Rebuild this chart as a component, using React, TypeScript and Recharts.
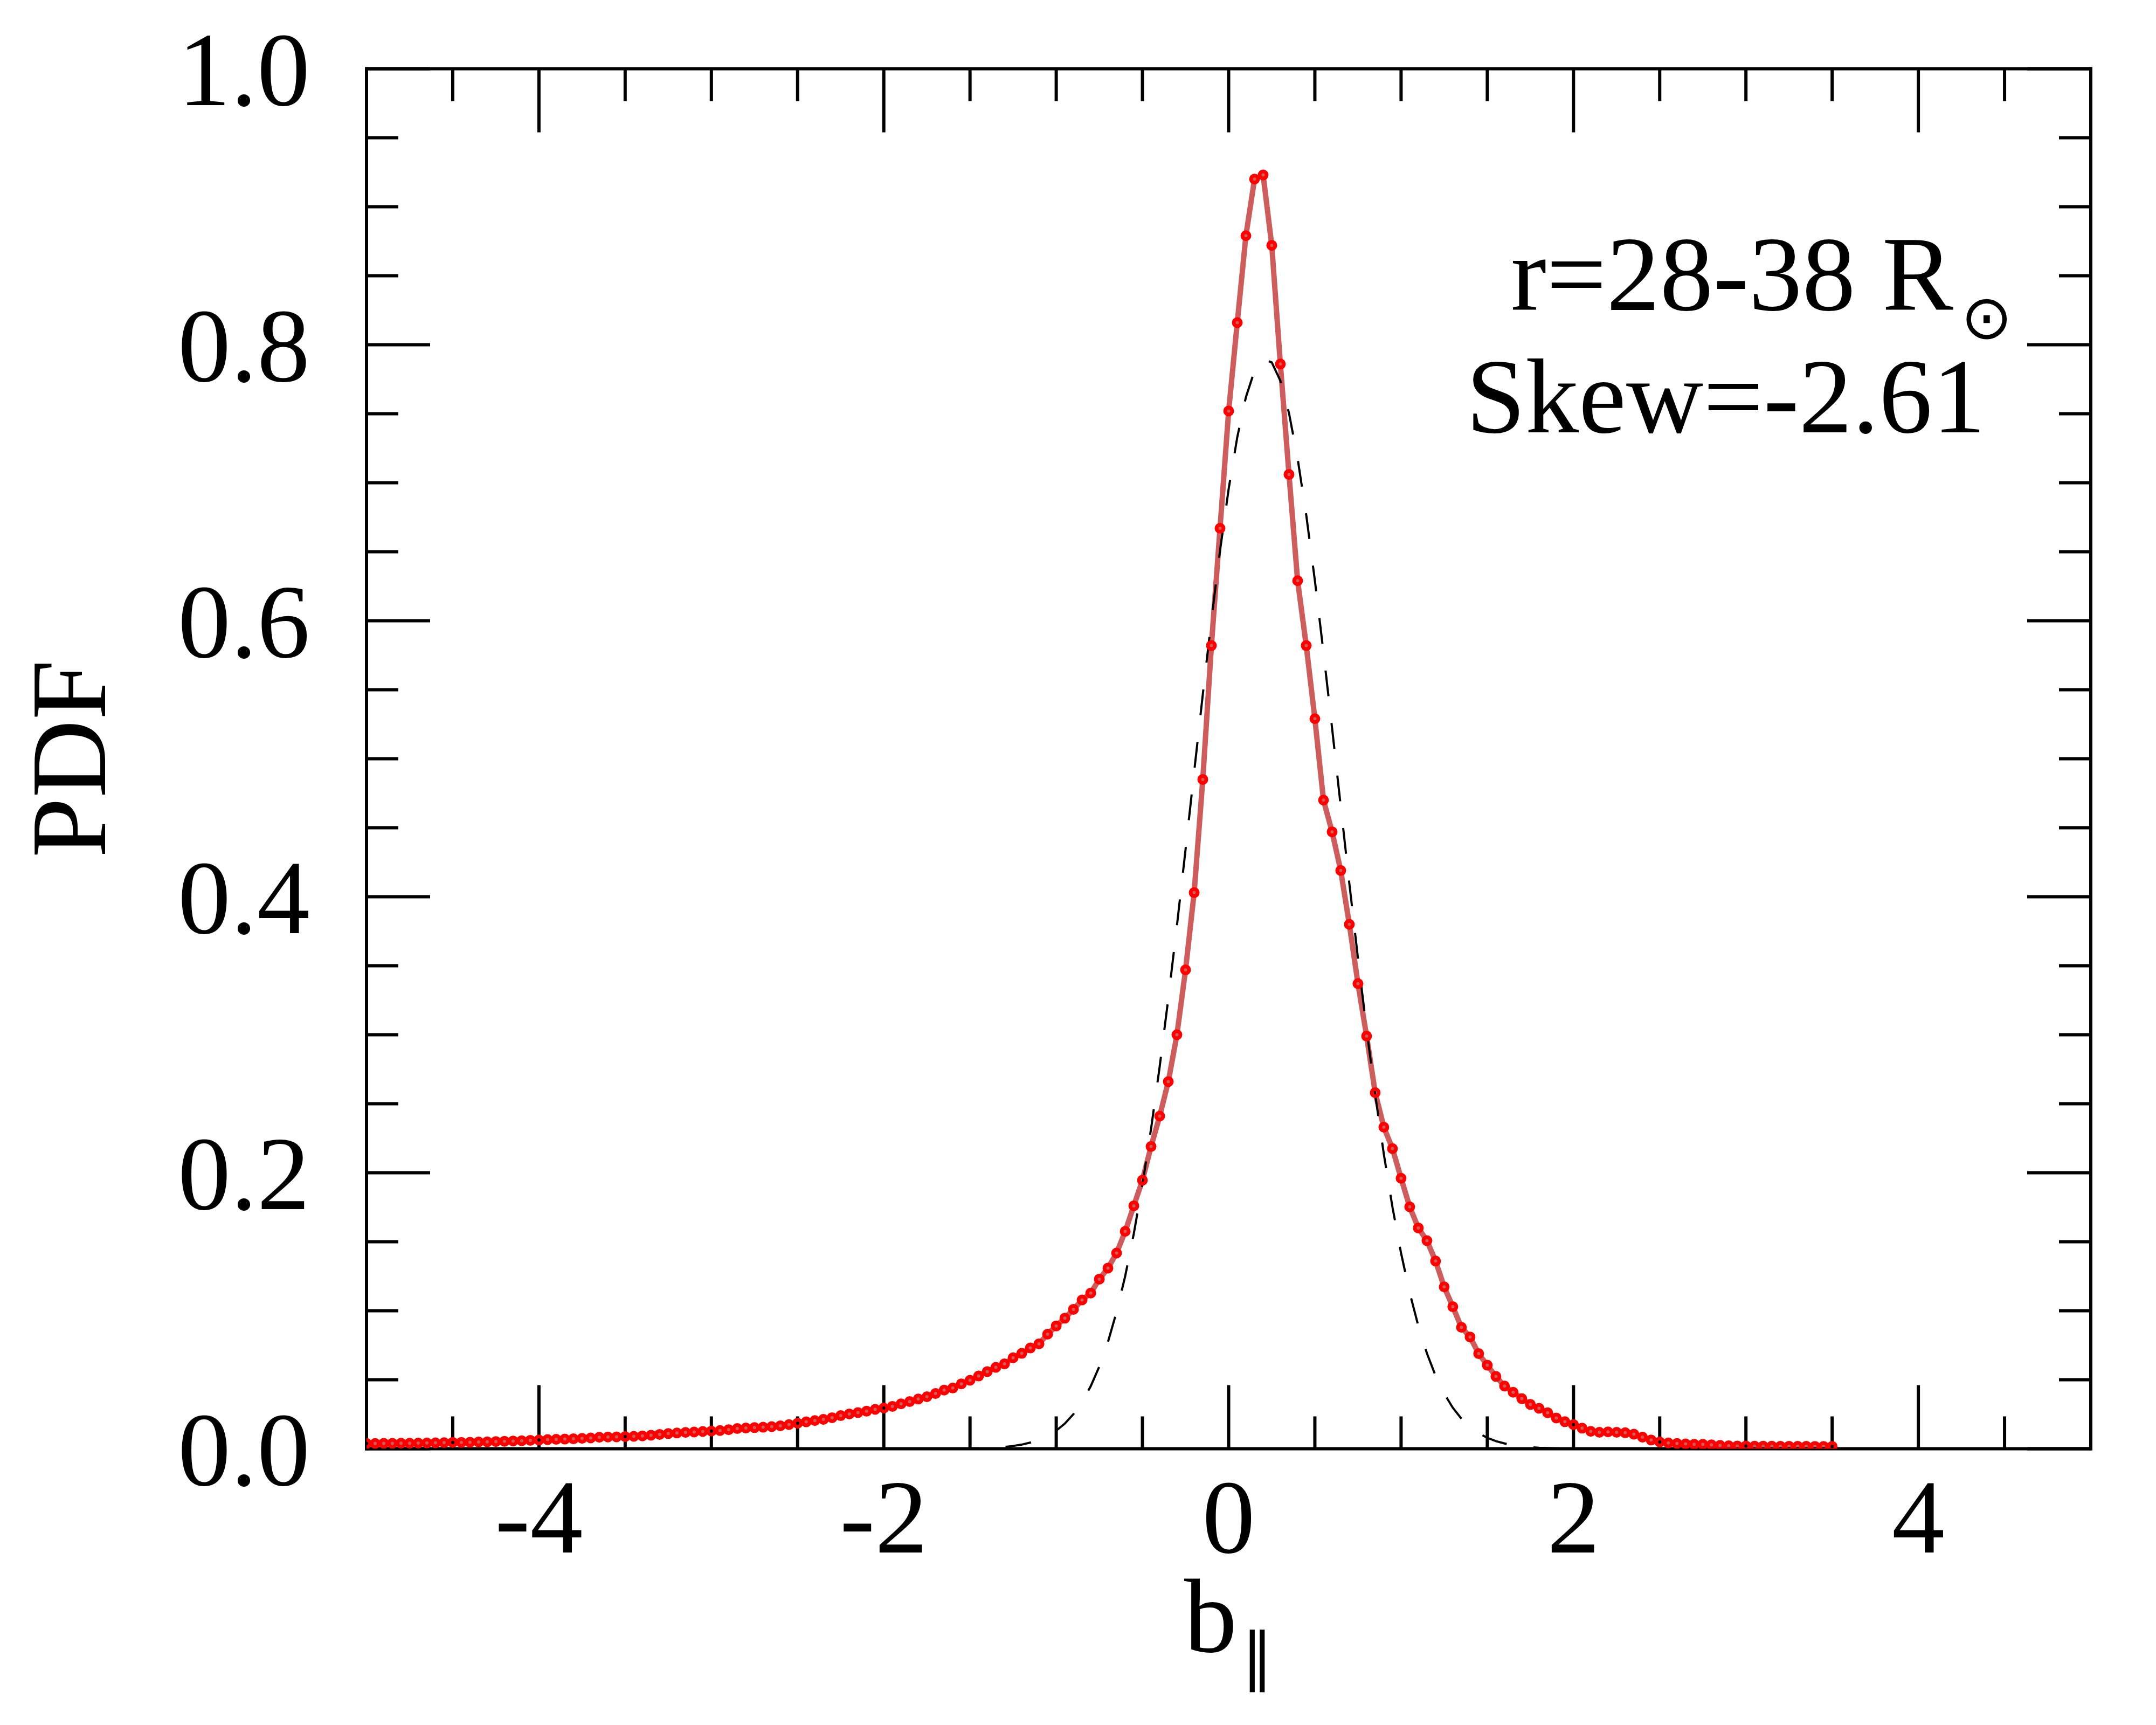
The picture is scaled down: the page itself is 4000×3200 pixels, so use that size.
import React from 'react';
import { LineChart, Line, XAxis, YAxis } from 'recharts';

// ---------- data ----------
const X_START = -5;
const X_STEP = 0.05;

// observed PDF (red, with markers), x = -5.00 ... 3.50 every 0.05
const PDF_VALUES = [
  0.0038, 0.0038, 0.0039, 0.0039, 0.004, 0.004, 0.0041, 0.0042, 0.0043, 0.0044,
  0.0046, 0.0046, 0.0047, 0.0049, 0.005, 0.0052, 0.0054, 0.0056, 0.0058, 0.0061,
  0.0063, 0.0066, 0.0068, 0.007, 0.0072, 0.0075, 0.0078, 0.0083, 0.0085, 0.0086,
  0.0088, 0.009, 0.0093, 0.0098, 0.0104, 0.011, 0.0114, 0.0118, 0.0121, 0.0125,
  0.0128, 0.0132, 0.0138, 0.0146, 0.015, 0.0153, 0.0156, 0.016, 0.0166, 0.0175,
  0.0185, 0.0195, 0.0204, 0.0213, 0.0225, 0.024, 0.0252, 0.0262, 0.0272, 0.0285,
  0.0295, 0.0307, 0.0325, 0.0342, 0.036, 0.0377, 0.04, 0.0425, 0.044, 0.047,
  0.0496, 0.0527, 0.0559, 0.059, 0.0615, 0.0659, 0.0691, 0.073, 0.076, 0.083,
  0.089, 0.0946, 0.101, 0.1078, 0.1128, 0.1229, 0.1309, 0.1418, 0.1575, 0.176,
  0.1946, 0.219, 0.241, 0.266, 0.3, 0.347, 0.403, 0.485, 0.582, 0.667,
  0.752, 0.816, 0.879, 0.92, 0.923, 0.872, 0.786, 0.706, 0.629, 0.582,
  0.529, 0.47, 0.447, 0.419, 0.38, 0.337, 0.299, 0.258, 0.233, 0.2175,
  0.196, 0.1753, 0.16, 0.1508, 0.136, 0.1173, 0.1029, 0.088, 0.081, 0.0689,
  0.0605, 0.0524, 0.0454, 0.0409, 0.0363, 0.0321, 0.0293, 0.0261, 0.0223, 0.0196,
  0.0175, 0.0149, 0.0126, 0.0119, 0.0122, 0.0119, 0.0116, 0.0105, 0.0084, 0.0063,
  0.0049, 0.0042, 0.0038, 0.0035, 0.0032, 0.0032, 0.0028, 0.0024, 0.0021, 0.002,
  0.002, 0.0019, 0.0019, 0.0019, 0.0018, 0.0018, 0.0018, 0.0018, 0.0017, 0.0017, 0.0017,
];

// dashed reference curve, x = -1.60 ... 2.00 every 0.05
const GAUSS_START = -1.6;
const GAUSS_VALUES = [
  0.0001, 0.0001, 0.0002, 0.0004, 0.0006, 0.0009, 0.0013, 0.002, 0.003, 0.0045,
  0.0065, 0.0093, 0.0131, 0.0182, 0.0251, 0.0339, 0.0453, 0.0596, 0.0774, 0.0991,
  0.1251, 0.1559, 0.1914, 0.2318, 0.2769, 0.3262, 0.379, 0.4341, 0.4905, 0.5465,
  0.6006, 0.6508, 0.6955, 0.733, 0.762, 0.7811, 0.7896, 0.7872, 0.7739, 0.7504,
  0.7176, 0.6766, 0.6292, 0.5771, 0.522, 0.4656, 0.4096, 0.3553, 0.304, 0.2565,
  0.2135, 0.1751, 0.1417, 0.1131, 0.089, 0.0691, 0.0529, 0.04, 0.0297, 0.0218,
  0.0158, 0.0113, 0.0079, 0.0055, 0.0038, 0.0026, 0.0017, 0.0011, 0.0007, 0.0005,
  0.0003, 0.0002, 0.0001,
];

const X_DOMAIN = [-5, 5];
const Y_DOMAIN = [0, 1];
const X_MAJOR_TICKS = [-4, -2, 0, 2, 4];
const X_MINOR_TICKS = [-4.5, -3.5, -3, -2.5, -1.5, -1, -0.5, 0.5, 1, 1.5, 2.5, 3, 3.5, 4.5];
const Y_MAJOR_TICKS = [0, 0.2, 0.4, 0.6, 0.8, 1.0];
const Y_MINOR_TICKS = [0.05, 0.1, 0.15, 0.25, 0.3, 0.35, 0.45, 0.5, 0.55, 0.65, 0.7, 0.75, 0.85, 0.9, 0.95];

const X_TITLE = 'b';
const X_TITLE_SUB = '\u2225';
const Y_TITLE = 'PDF';
const NOTE_1 = 'r=28-38 R';
const NOTE_1_SUB = '\u2299';
const NOTE_2 = 'Skew=-2.61';

// ---------- table for recharts ----------
const round2 = (v: number) => Math.round(v * 100) / 100;
const data = PDF_VALUES.map((pdf, i) => {
  const x = round2(X_START + i * X_STEP);
  const gi = Math.round((x - GAUSS_START) / X_STEP);
  const gauss = gi >= 0 && gi < GAUSS_VALUES.length ? GAUSS_VALUES[gi] : null;
  return { x, pdf, gauss };
});

// ---------- styles ----------
const FONT = "'Liberation Serif', 'Times New Roman', serif";
const SYM_FONT = "'DejaVu Sans', sans-serif";
const TICK_FS = 196;
const AXIS_LINE = { stroke: '#000', strokeWidth: 6, strokeLinecap: 'square' as const };
const TICK_LINE = { stroke: '#000', strokeWidth: 6 };
const MAJOR = -118;
const MINOR = -61;

const XTick = (props: any) => {
  const { x, y, payload } = props;
  return (
    <text x={x} y={y} dy={192} textAnchor="middle" fontFamily={FONT} fontSize={TICK_FS} fill="#000" stroke="none">
      {String(payload.value)}
    </text>
  );
};

const YTick = (props: any) => {
  const { x, y, payload } = props;
  return (
    <text x={x - 105} y={y} dy={67} textAnchor="end" fontFamily={FONT} fontSize={TICK_FS} fill="#000" stroke="none">
      {Number(payload.value).toFixed(1)}
    </text>
  );
};

const NoLabel = () => <g />;

const XTitle = (props: any) => {
  const vb = props.viewBox;
  const cx = vb.x + vb.width / 2;
  return (
    <text x={cx} y={vb.y + 376} textAnchor="middle" fontFamily={FONT} fontSize={196} fill="#000">
      <tspan>{X_TITLE}</tspan>
      <tspan fontFamily={SYM_FONT} fontSize={118} dx={8} dy={50}>{X_TITLE_SUB}</tspan>
    </text>
  );
};

const YTitle = (props: any) => {
  const vb = props.viewBox;
  const bx = vb.x + vb.width - 485;
  const cy = vb.y + vb.height / 2;
  return (
    <text x={bx} y={cy} transform={`rotate(-90 ${bx} ${cy})`} textAnchor="middle" fontFamily={FONT} fontSize={200} fill="#000">
      {Y_TITLE}
    </text>
  );
};

const Notes = (props: any) => {
  const vb = props.viewBox;
  const right = vb.x + vb.width;
  const top = vb.y + vb.height;
  return (
    <g>
      <text x={right - 1076} y={top + 447.5} fontFamily={FONT} fontSize={198} fill="#000">
        <tspan>{NOTE_1}</tspan>
        <tspan fontFamily={SYM_FONT} fontSize={114} dx={14} dy={53}>{NOTE_1_SUB}</tspan>
      </text>
      <text x={right - 1159} y={top + 674.5} fontFamily={FONT} fontSize={198} fill="#000">
        {NOTE_2}
      </text>
    </g>
  );
};

const axisCommon = { type: 'number' as const, allowDataOverflow: true, interval: 0 as const, stroke: '#000', strokeWidth: 6 };

export default function App() {
  return (
    <div style={{ position: 'absolute', left: 0, top: 0, background: '#fff' }}>
      <LineChart
        width={4000}
        height={3200}
        data={data}
        margin={{ top: 125.5, right: 119, bottom: 510.5, left: 678 }}
      >
        <XAxis
          {...axisCommon} xAxisId="xb" dataKey="x" domain={X_DOMAIN}
          ticks={X_MAJOR_TICKS} height={1} orientation="bottom"
          axisLine={AXIS_LINE} tickLine={TICK_LINE} tickSize={MAJOR} tickMargin={-MAJOR}
          tick={<XTick />} label={{ content: XTitle }}
        />
        <XAxis
          {...axisCommon} xAxisId="xbm" dataKey="x" domain={X_DOMAIN}
          ticks={X_MINOR_TICKS} height={1} orientation="bottom"
          axisLine={false} tickLine={TICK_LINE} tickSize={MINOR} tick={<NoLabel />}
        />
        <XAxis
          {...axisCommon} xAxisId="xt" dataKey="x" domain={X_DOMAIN}
          ticks={X_MAJOR_TICKS} height={1} orientation="top"
          axisLine={AXIS_LINE} tickLine={TICK_LINE} tickSize={MAJOR} tick={<NoLabel />}
          label={{ content: Notes }}
        />
        <XAxis
          {...axisCommon} xAxisId="xtm" dataKey="x" domain={X_DOMAIN}
          ticks={X_MINOR_TICKS} height={1} orientation="top"
          axisLine={false} tickLine={TICK_LINE} tickSize={MINOR} tick={<NoLabel />}
        />
        <YAxis
          {...axisCommon} yAxisId="yl" domain={Y_DOMAIN}
          ticks={Y_MAJOR_TICKS} width={1} orientation="left"
          axisLine={AXIS_LINE} tickLine={TICK_LINE} tickSize={MAJOR} tickMargin={-MAJOR}
          tick={<YTick />} label={{ content: YTitle }}
        />
        <YAxis
          {...axisCommon} yAxisId="ylm" domain={Y_DOMAIN}
          ticks={Y_MINOR_TICKS} width={1} orientation="left"
          axisLine={false} tickLine={TICK_LINE} tickSize={-60} tick={<NoLabel />}
        />
        <YAxis
          {...axisCommon} yAxisId="yr" domain={Y_DOMAIN}
          ticks={Y_MAJOR_TICKS} width={1} orientation="right"
          axisLine={AXIS_LINE} tickLine={TICK_LINE} tickSize={MAJOR} tick={<NoLabel />}
        />
        <YAxis
          {...axisCommon} yAxisId="yrm" domain={Y_DOMAIN}
          ticks={Y_MINOR_TICKS} width={1} orientation="right"
          axisLine={false} tickLine={TICK_LINE} tickSize={-60} tick={<NoLabel />}
        />
        <Line
          xAxisId="xb" yAxisId="yl" dataKey="pdf" type="linear"
          stroke="#cd5c5c" strokeWidth={10}
          dot={{ r: 6.5, stroke: '#ff0000', strokeWidth: 7, fill: 'none' }}
          activeDot={false} isAnimationActive={false}
        />
        <Line
          xAxisId="xb" yAxisId="yl" dataKey="gauss" type="linear"
          stroke="#000" strokeWidth={4} strokeDasharray="48 50"
          dot={false} activeDot={false} connectNulls={false} isAnimationActive={false}
        />
      </LineChart>
    </div>
  );
}
